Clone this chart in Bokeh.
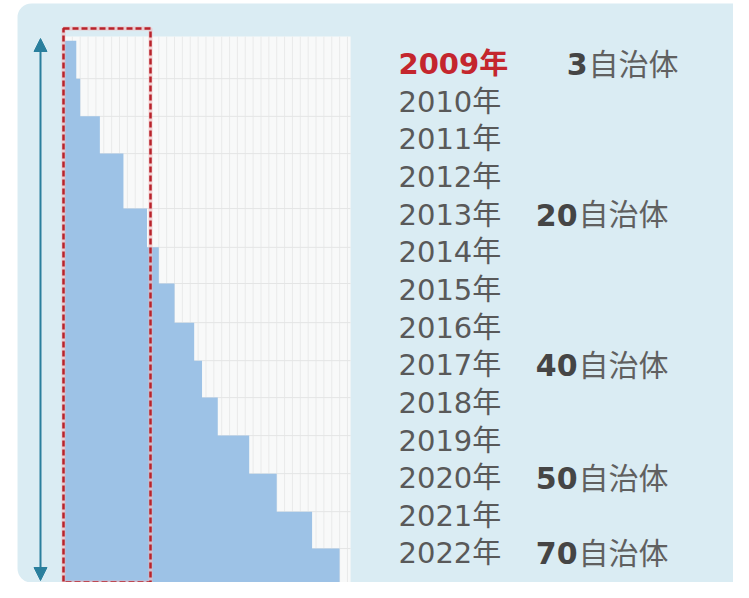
import numpy as np
from bokeh.plotting import figure
from bokeh.models import Range1d, Arrow, NormalHead, BoxAnnotation
from bokeh.core.properties import value
from bokeh.embed import file_html
from bokeh.resources import INLINE

# ---------------- data ----------------
years = [2009, 2010, 2011, 2012, 2013, 2014, 2015, 2016, 2017, 2018, 2019, 2020, 2021, 2022]
year_labels = [f"{y}年" for y in years]
count_years = [2009, 2013, 2017, 2020, 2022]
count_numbers = ["3", "20", "40", "50", "70"]
count_unit = "自治体"
# step chart: row edges (on the year scale) and filled width of each row
step_edges = [2008.38, 2009.39, 2010.39, 2011.38, 2012.84, 2013.87, 2014.83, 2015.87,
              2016.88, 2017.86, 2018.87, 2019.88, 2020.89, 2021.87, 2022.80]
step_counts = [3, 4, 9, 15, 21, 24, 28, 33, 35, 39, 47, 54, 63, 70]
grid_max = 72.8

# ---------------- layout ----------------
W, H = 733, 582
PX_X = 3.93      # px per unit
PX_Y = 37.65     # px per year
X0 = 64          # screen x of unit 0
Y0 = 63.5        # screen y of 2009


def ux(px):
    return (px - X0) / PX_X


def uy(py):
    return 2009 + (py - Y0) / PX_Y


x_range = Range1d(ux(0), ux(W))
y_range = Range1d(uy(H), uy(0))

p = figure(width=W, height=H, x_range=x_range, y_range=y_range,
           x_axis_type=None, y_axis_type=None,
           output_backend="svg", toolbar_location=None, min_border=0,
           background_fill_color="white", border_fill_color="white",
           outline_line_color=None)

# panel
p.add_layout(BoxAnnotation(left=ux(17), right=ux(780), top=uy(3), bottom=uy(582),
                           fill_color="#daecf3", fill_alpha=1, line_color=None,
                           border_radius=14, level="underlay"))

grid_top = uy(36)
grid_bottom = step_edges[-1]
p.quad(left=[0], right=[grid_max], top=[grid_top], bottom=[grid_bottom],
       fill_color="#f8f9f9", line_color=None)

vx = np.arange(2, grid_max, 2.0)
p.segment(x0=vx, y0=grid_top, x1=vx, y1=grid_bottom, line_color="#e9eaea", line_width=1)
p.segment(x0=0, y0=step_edges[1:-1], x1=grid_max, y1=step_edges[1:-1],
          line_color="#e4e5e5", line_width=1)

# stepped fill
xs, ys = [0], [step_edges[0]]
for i, c in enumerate(step_counts):
    xs += [c, c]
    ys += [step_edges[i], step_edges[i + 1]]
xs.append(0)
ys.append(step_edges[-1])
p.patch(xs, ys, fill_color="#9dc2e6", line_color=None)

# red dashed highlight box
p.quad(left=[ux(63)], right=[ux(150)], top=[uy(28)], bottom=[uy(582)],
       fill_alpha=0, line_color="#f2b8bb", line_width=4, line_alpha=0.6)
p.quad(left=[ux(63)], right=[ux(150)], top=[uy(28)], bottom=[uy(582)],
       fill_alpha=0, line_color="#b8232b", line_dash="6 3", line_width=2.5)

# double arrow
ac = "#2a7f9d"
p.add_layout(Arrow(start=NormalHead(size=13, fill_color=ac, line_color=ac),
                   end=NormalHead(size=13, fill_color=ac, line_color=ac),
                   x_start=ux(40), y_start=uy(38), x_end=ux(40), y_end=uy(580),
                   line_color=ac, line_width=2))

FONT = value("'DejaVu Sans', 'Noto Sans CJK JP'")
FS_YEAR = "29px"
FS_COUNT = "30px"
x_year = ux(398)
p.text(x=[x_year] * (len(years) - 1), y=years[1:], text=year_labels[1:],
       text_font=FONT, text_font_size=FS_YEAR, text_color="#595959",
       text_baseline="middle", text_align="left")
p.text(x=[x_year], y=years[:1], text=year_labels[:1],
       text_font=FONT, text_font_size=FS_YEAR, text_color="#c4262d", text_font_style="bold",
       text_baseline="middle", text_align="left")

anchors = [ux(587) if y == years[0] else ux(577) for y in count_years]
p.text(x=anchors, y=count_years, text=count_numbers,
       text_font=FONT, text_font_size=FS_COUNT, text_color="#454545", text_font_style="bold",
       text_baseline="middle", text_align="right")
p.text(x=[a + 1 / PX_X for a in anchors], y=count_years, text=[count_unit] * len(count_years),
       text_font=FONT, text_font_size=FS_COUNT, text_color="#606060",
       text_baseline="middle", text_align="left")

open("out.html", "w").write(file_html(p, INLINE))
